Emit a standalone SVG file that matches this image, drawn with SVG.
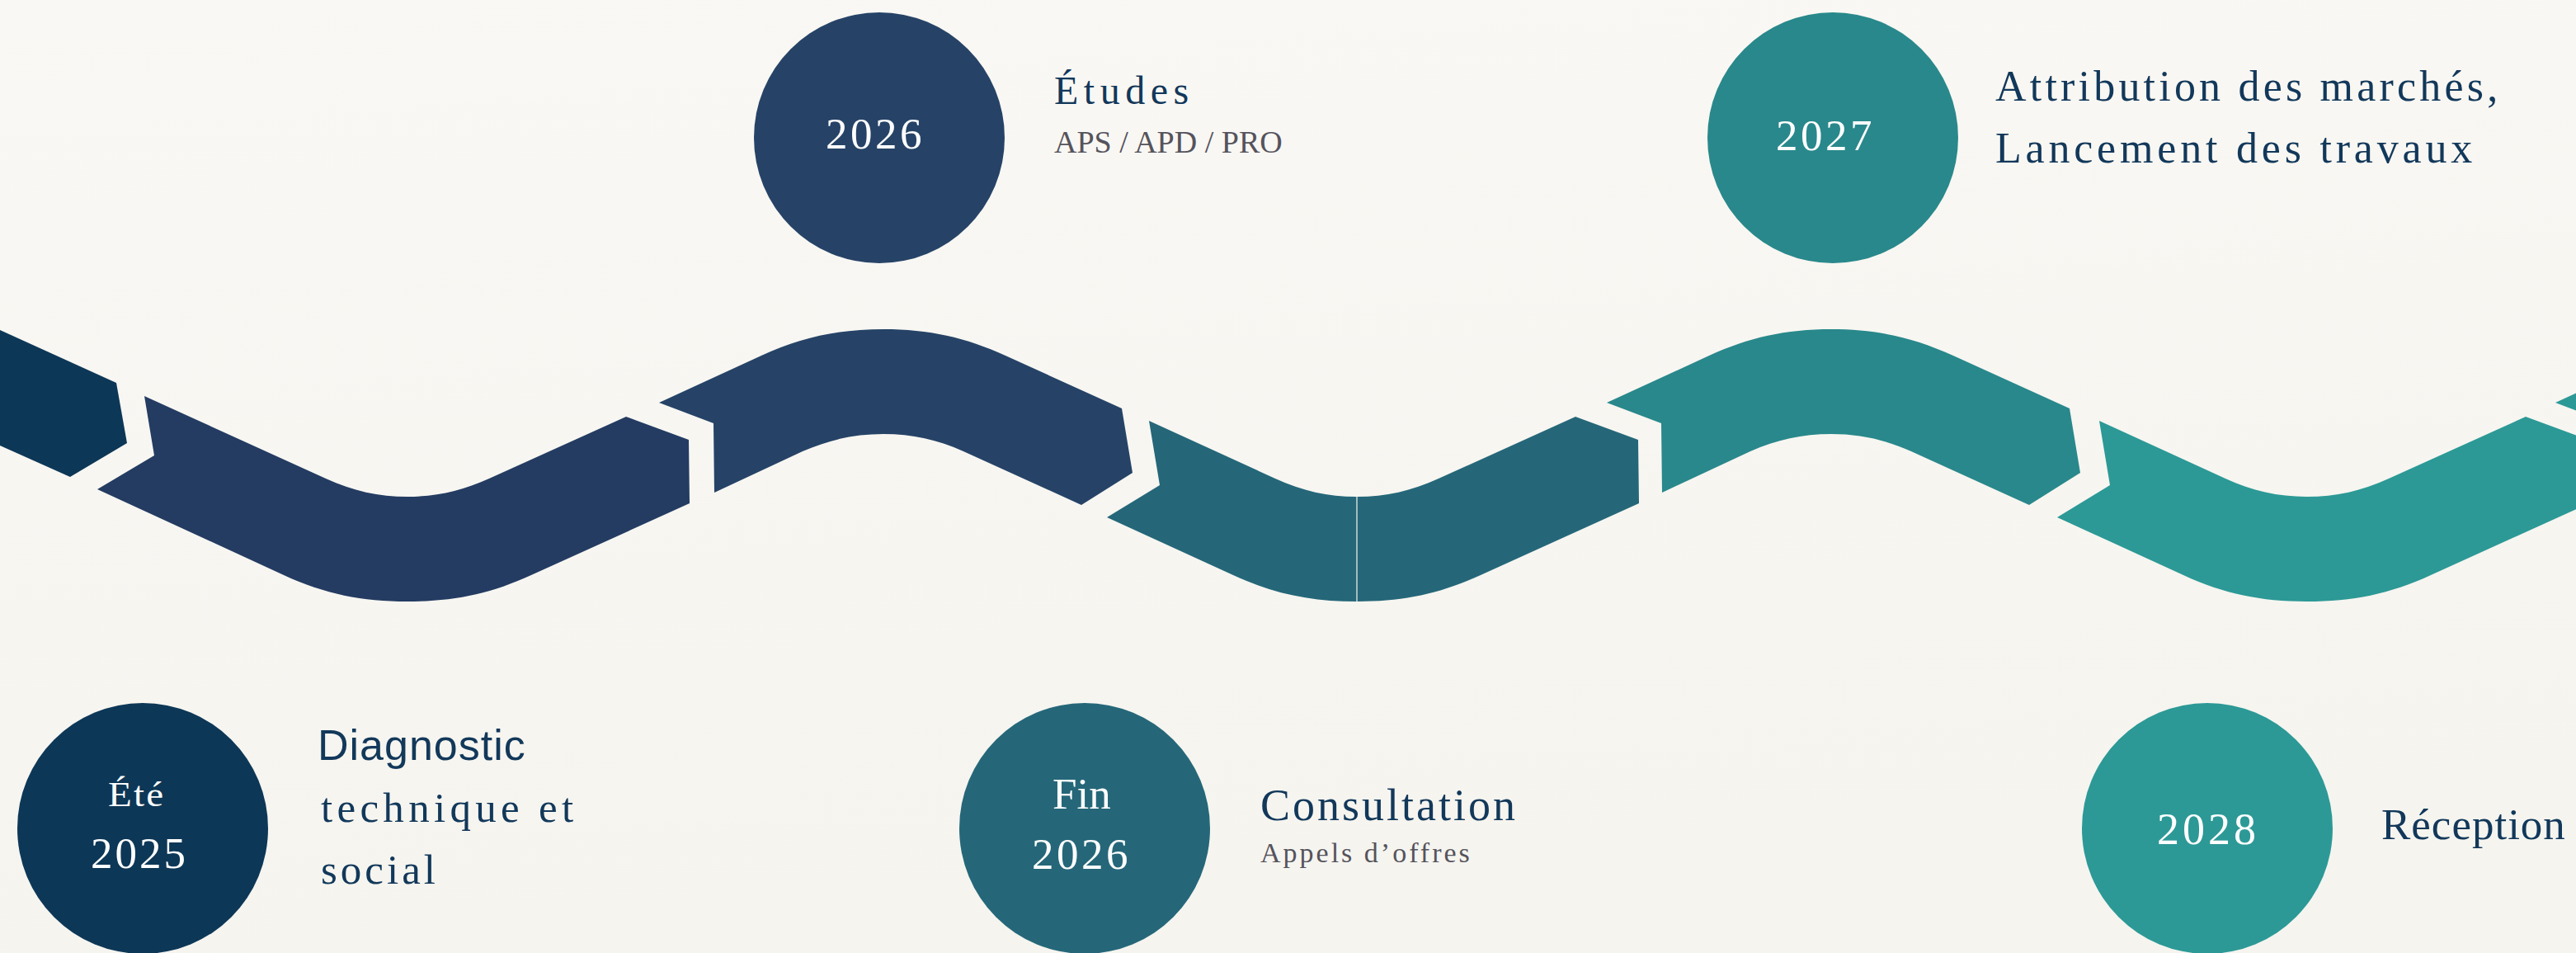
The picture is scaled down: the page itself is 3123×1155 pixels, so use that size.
<svg xmlns="http://www.w3.org/2000/svg" width="3123" height="1155" viewBox="0 0 3123 1155">
<defs>
<linearGradient id="bg" x1="0" y1="0" x2="0.2" y2="1">
<stop offset="0" stop-color="#faf8f4"/>
<stop offset="1" stop-color="#f5f4ef"/>
</linearGradient>
</defs>
<style>
.num{font-family:"Liberation Serif","Times New Roman",serif;fill:#ffffff;font-size:53px;letter-spacing:3.5px}
.ttl{font-family:"Liberation Serif","Times New Roman",serif;fill:#12385a}
.sub{font-family:"Liberation Serif","Times New Roman",serif;fill:#55535c}
.sans{font-family:"Liberation Sans",Arial,sans-serif;fill:#12385a}
</style>
<rect x="0" y="0" width="3123" height="1155" fill="url(#bg)"/>
<g id="connectors">
<path fill="#0d3757" d="M-20,391 L0,400 L141,464 L154,537 L85,578 L0,540 L-20,531 Z"/>
<path fill="#243c62" d="M175,480 L395,580 C428,595 459,602 494,602 C529,602 560,595 593,580 L759,505 L835,533 L836,610 L644,697 C594,720 549,729 494,729 C439,729 394,720 344,697 L118,593 L187,552 Z"/>
<path fill="#264367" d="M799,488 L923,431 C971,409 1016,399 1071,399 C1126,399 1171,409 1219,431 L1360,495 L1373,573 L1311,612 L1168,547 C1137,533 1106,526 1071,526 C1036,526 1005,533 973,547 L866,597 L865,513 Z"/>
<path fill="#256779" d="M1393,510 L1546,580 C1579,595 1610,602 1644.4,602 L1644.4,729 C1590,729 1545,720 1495,697 L1342,627 L1406,588 Z"/>
<path fill="#256779" d="M1645.6,602 C1680,602 1711,595 1744,580 L1910,505 L1986,533 L1987,610 L1795,697 C1745,720 1700,729 1645.6,729 Z"/>
<path fill="#29888b" d="M1948,488 L2072,431 C2120,409 2165,399 2220,399 C2275,399 2320,409 2368,431 L2509,495 L2522,573 L2460,612 L2317,547 C2286,533 2255,526 2220,526 C2185,526 2154,533 2122,547 L2015,597 L2014,513 Z"/>
<path fill="#2c9996" d="M2545,510 L2698,580 C2731,595 2762,602 2797,602 C2832,602 2863,595 2896,580 L3062,505 L3138,533 L3139,610 L2947,697 C2897,720 2852,729 2797,729 C2742,729 2697,720 2647,697 L2494,627 L2558,588 Z"/>
<path fill="#2c9996" d="M3098,488 L3222,431 C3270,409 3315,399 3370,399 L3370,526 C3335,526 3304,533 3272,547 L3165,597 L3164,513 Z"/>
</g>
<g id="node-ete2025">
<circle cx="173" cy="1004" r="152" fill="#0d3757"/>
<text class="num" transform="translate(131,977) scale(1.12,1)" style="font-size:42px;letter-spacing:2px">Été</text>
<text class="num" x="110" y="1052" style="letter-spacing:3px">2025</text>
<text class="sans" x="385" y="921" font-size="52" letter-spacing="1">Diagnostic</text>
<text class="ttl" x="389" y="996" font-size="51" letter-spacing="5.3">technique et</text>
<text class="ttl" x="389" y="1071" font-size="51" letter-spacing="4">social</text>
</g>
<g id="node-2026">
<circle cx="1066" cy="167" r="152" fill="#264367"/>
<text class="num" x="1001" y="180">2026</text>
<text class="ttl" x="1278" y="126" font-size="48" letter-spacing="6.5">Études</text>
<text class="sub" x="1278" y="185" font-size="38">APS / APD / PRO</text>
</g>
<g id="node-fin2026">
<circle cx="1315" cy="1004" r="152" fill="#256779"/>
<text class="num" x="1276" y="980" style="letter-spacing:0px">Fin</text>
<text class="num" x="1251" y="1053">2026</text>
<text class="ttl" x="1528" y="994" font-size="54" letter-spacing="3">Consultation</text>
<text class="sub" x="1528" y="1045" font-size="34" letter-spacing="3">Appels d’offres</text>
</g>
<g id="node-2027">
<circle cx="2222" cy="167" r="152" fill="#29888b"/>
<text class="num" x="2153" y="182">2027</text>
<text class="ttl" x="2419" y="122" font-size="52" letter-spacing="4.2">Attribution des marchés,</text>
<text class="ttl" x="2419" y="197" font-size="52" letter-spacing="4.8">Lancement des travaux</text>
</g>
<g id="node-2028">
<circle cx="2676" cy="1004" r="152" fill="#2c9996"/>
<text class="num" x="2615" y="1023" style="font-size:54px;letter-spacing:4px">2028</text>
<text class="ttl" x="2887" y="1017" font-size="53" letter-spacing="1">Réception</text>
</g>
</svg>
